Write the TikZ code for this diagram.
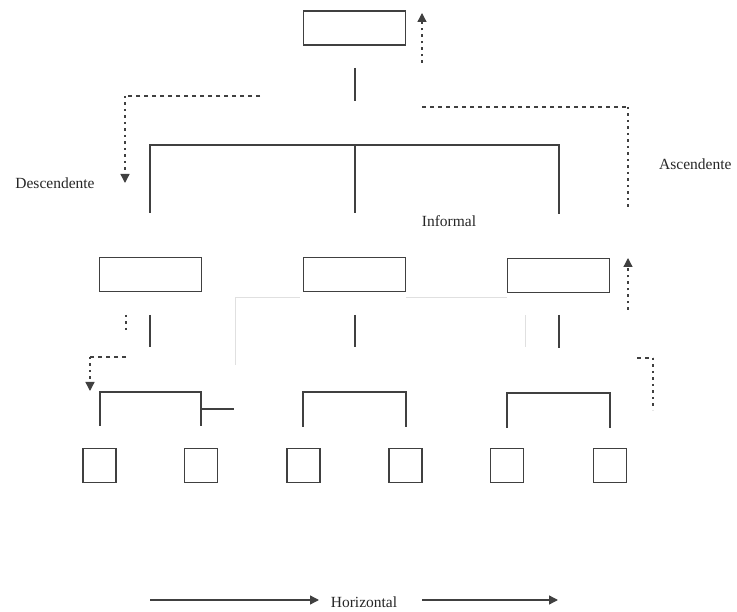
\documentclass[tikz,border=0pt]{standalone}
\usepackage{fontspec}
\setmainfont{Liberation Serif}
\usetikzlibrary{arrows.meta}
\tikzset{
  ln/.style={line width=1.7pt, draw=black!75},
  boxn/.style={ln, inner sep=0pt, rectangle},
  bigbox/.style={boxn, minimum width=102pt, minimum height=34pt},
  smallbox/.style={boxn, minimum width=33pt, minimum height=34pt},
  dash h/.style={line width=1.3pt, draw=black!75, dash pattern=on 4pt off 4pt},
  dot v/.style={line width=1.3pt, draw=black!75, dash pattern=on 2.5pt off 4pt},
  tip/.style={-{Triangle[width=9pt,length=9pt]}},
  lbl/.style={font=\fontsize{15.5}{17}\selectfont, text=black!85, inner sep=0pt},
  faint/.style={line width=0.6pt, draw=black!12}
}
\begin{document}
\begin{tikzpicture}[x=1pt,y=-1pt]
\useasboundingbox (0,0) rectangle (737,612);

% boxes
\node[bigbox] (top) at (354.5,28) {};
\node[bigbox] (m1) at (150.5,274.5) {};
\node[bigbox] (m2) at (354.5,274.5) {};
\node[bigbox] (m3) at (558.5,275.5) {};
\foreach \i/\x in {1/99.5,2/201,3/303.5,4/405.5,5/507,6/610}
  \node[smallbox] (s\i) at (\x,465.5) {};

% coordinates
\coordinate (a1) at (355,68);   \coordinate (a2) at (355,101);
\coordinate (b1) at (150,213);  \coordinate (b2) at (150,145);
\coordinate (b3) at (559,145);  \coordinate (b4) at (559,214);
\coordinate (b5) at (355,145);  \coordinate (b6) at (355,213);

% solid lines upper
\draw[ln] (a1) -- (a2);
\draw[ln] (b1) -- (b2) -- (b3) -- (b4);
\draw[ln] (b5) -- (b6);

% short verticals under middle boxes
\coordinate (c1) at (150,315); \coordinate (c2) at (150,347);
\coordinate (c3) at (355,315); \coordinate (c4) at (355,347);
\coordinate (c5) at (559,315); \coordinate (c6) at (559,348);
\draw[ln] (c1) -- (c2);
\draw[ln] (c3) -- (c4);
\draw[ln] (c5) -- (c6);

% lower brackets
\coordinate (d1) at (100,426); \coordinate (d2) at (100,392);
\coordinate (d3) at (201,392); \coordinate (d4) at (201,426);
\coordinate (d5) at (201,409); \coordinate (d6) at (234,409);
\draw[ln] (d1) -- (d2) -- (d3) -- (d4);
\draw[ln] (d5) -- (d6);
\coordinate (e1) at (303,427); \coordinate (e2) at (303,392);
\coordinate (e3) at (406,392); \coordinate (e4) at (406,427);
\draw[ln] (e1) -- (e2) -- (e3) -- (e4);
\coordinate (f1) at (507,428); \coordinate (f2) at (507,393);
\coordinate (f3) at (610,393); \coordinate (f4) at (610,428);
\draw[ln] (f1) -- (f2) -- (f3) -- (f4);

% faint artefact lines
\coordinate (g1) at (235,365); \coordinate (g2) at (235,297);
\coordinate (g3) at (300,297); \coordinate (g4) at (406,297);
\coordinate (g5) at (507,297); \coordinate (g6) at (525,315);
\coordinate (g7) at (525,347);
\draw[faint] (g1) -- (g2) -- (g3);
\draw[faint] (g4) -- (g5);
\draw[faint] (g6) -- (g7);

% dashed / dotted flows
\coordinate (h1) at (260,96); \coordinate (h2) at (125,96); \coordinate (h3) at (125,183);
\draw[dash h] (h1) -- (h2);
\draw[dot v, tip] (h2) -- (h3);

\coordinate (i1) at (422,63); \coordinate (i2) at (422,13);
\draw[dot v, tip] (i1) -- (i2);

\coordinate (j1) at (422,107); \coordinate (j2) at (628,107); \coordinate (j3) at (628,210);
\draw[dash h] (j1) -- (j2);
\draw[dot v] (j2) -- (j3);

\coordinate (k1) at (628,310); \coordinate (k2) at (628,258);
\draw[dot v, tip] (k1) -- (k2);

\coordinate (l1) at (126,315); \coordinate (l2) at (126,330);
\draw[dot v] (l1) -- (l2);

\coordinate (n1) at (126,357); \coordinate (n2) at (90,357); \coordinate (n3) at (90,391);
\draw[dash h] (n1) -- (n2);
\draw[dot v, tip] (n2) -- (n3);

\coordinate (o1) at (637,358); \coordinate (o2) at (653,358); \coordinate (o3) at (653,410);
\draw[dash h] (o1) -- (o2);
\draw[dot v] (o2) -- (o3);

% labels
\node[lbl] (desc) at (55,183) {Descendente};
\node[lbl, anchor=west] (asc) at (659,164) {Ascendente};
\node[lbl] (inf) at (449,221) {Informal};
\node[lbl] (hor) at (364,602) {Horizontal};

% horizontal arrows
\coordinate (p1) at (150,600); \coordinate (p2) at (319,600);
\coordinate (q1) at (422,600); \coordinate (q2) at (558,600);
\draw[ln, line width=1.3pt, tip] (p1) -- (p2);
\draw[ln, line width=1.3pt, tip] (q1) -- (q2);
\end{tikzpicture}
\end{document}
